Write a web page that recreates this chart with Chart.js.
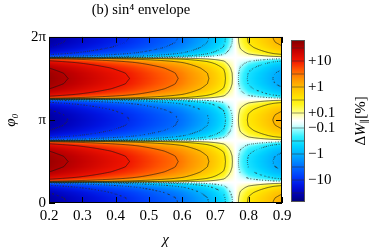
<!DOCTYPE html>
<html>
<head>
<meta charset="utf-8">
<script src="https://cdn.jsdelivr.net/npm/chart.js@4.4.0/dist/chart.umd.min.js"></script>
<style>
html, body { margin: 0; padding: 0; background: #fff; }
#wrap { width: 373px; height: 248px; }
</style>
</head>
<body>
<div id="wrap"><canvas id="myChart" width="373" height="248"></canvas></div>
<script>
var chiVals = [0.2, 0.225, 0.25, 0.275, 0.3, 0.325, 0.35, 0.375, 0.4, 0.425,
               0.45, 0.475, 0.5, 0.525, 0.55, 0.575, 0.6, 0.625, 0.65, 0.675,
               0.7, 0.725, 0.75, 0.775, 0.8, 0.825, 0.85, 0.875, 0.9];
// Delta W (in %) at phi0 = pi/2 for each chi
var ampVals = [45, 38.4, 33, 28.5, 24.2, 20.7, 17.7, 15.1, 13.0, 11.2,
               9.47, 7.8, 6.42, 5.28, 4.35, 3.58, 2.82, 2.07, 1.51, 1.1,
               0.70, 0.415, 0.11, -0.16, -0.364, -0.52, -0.73, -1.04, -1.3];
var phiSteps = [0, 1, 2, 3, 4, 5, 6, 7, 8, 9, 10, 11, 12, 13, 14, 15, 16,
                17, 18, 19, 20, 21, 22, 23, 24, 25, 26, 27, 28, 29, 30, 31, 32];
var phiShape = [-1, -0.924, -0.707, -0.383, 0, 0.383, 0.707, 0.924, 1, 0.924, 0.707, 0.383, 0,
                -0.383, -0.707, -0.924, -1, -0.924, -0.707, -0.383, 0, 0.383, 0.707, 0.924, 1,
                0.924, 0.707, 0.383, 0, -0.383, -0.707, -0.924, -1];

var xTickVals = [0.2, 0.3, 0.4, 0.5, 0.6, 0.7, 0.8, 0.9];
var yTickVals = [0, Math.PI, 2 * Math.PI];
var yTickLabels = ['0', 'π', '2π'];
var levels = [0.1, 0.316, 1, 3.16, 10, 31.6];
var cbTickVals = [10, 1, 0.1, -0.1, -1, -10];
var cbTickLabels = ['+10', '+1', '+0.1', '\u22120.1', '\u22121', '\u221210'];

var serif = "'Liberation Serif', 'DejaVu Serif', serif";

// colour map stops: position on the colour bar (px from centre) -> rgb
var cmapStops = [
    [-81, 0, 0, 120], [-73, 0, 0, 185], [-65, 0, 20, 225], [-56, 0, 60, 250],
    [-46, 0, 110, 255], [-36, 0, 165, 255], [-26, 0, 210, 255], [-16, 50, 240, 255],
    [-9, 150, 252, 255], [-4, 225, 255, 255], [0, 255, 255, 255],
    [4, 255, 255, 200], [9, 255, 255, 120], [16, 255, 245, 30], [24, 255, 225, 0],
    [33, 255, 190, 0], [42, 255, 145, 0], [51, 255, 85, 0], [60, 240, 20, 0],
    [70, 195, 0, 0], [81, 125, 0, 0]
];

// symlog position (px) on the colour bar for a value
function tOf(v) {
    var a = Math.abs(v);
    var t = a <= 0.1 ? 7.5 * a / 0.1 : 7.5 + 26 * Math.log10(a / 0.1);
    return v < 0 ? -t : t;
}
function vOf(t) {
    var a = Math.abs(t);
    var v = a <= 7.5 ? 0.1 * a / 7.5 : 0.1 * Math.pow(10, (a - 7.5) / 26);
    return t < 0 ? -v : v;
}

function cmap(t) {
    if (t <= cmapStops[0][0]) return cmapStops[0].slice(1);
    var last = cmapStops[cmapStops.length - 1];
    if (t >= last[0]) return last.slice(1);
    for (var i = 1; i < cmapStops.length; i++) {
        if (t <= cmapStops[i][0]) {
            var a = cmapStops[i - 1], b = cmapStops[i];
            var f = (t - a[0]) / (b[0] - a[0]);
            return [a[1] + f * (b[1] - a[1]), a[2] + f * (b[2] - a[2]), a[3] + f * (b[3] - a[3])];
        }
    }
}

function lerp(xs, ys, x) {
    if (x <= xs[0]) return ys[0];
    if (x >= xs[xs.length - 1]) return ys[ys.length - 1];
    for (var i = 1; i < xs.length; i++) {
        if (x <= xs[i]) {
            var f = (x - xs[i - 1]) / (xs[i] - xs[i - 1]);
            return ys[i - 1] + f * (ys[i] - ys[i - 1]);
        }
    }
}

var ampT = ampVals.map(tOf);
var phiVals = phiSteps.map(function(k) { return k * Math.PI / 16; });

function ampAt(chi) { return vOf(lerp(chiVals, ampT, chi)); }
function shapeAt(phi) { return lerp(phiVals, phiShape, phi); }

// marching squares on a grid of values
function contour(ctx, grid, xs, ys, level, dotted) {
    var nx = xs.length, ny = ys.length;
    ctx.beginPath();
    for (var j = 0; j < ny - 1; j++) {
        for (var i = 0; i < nx - 1; i++) {
            if (dotted && (i + j) % 3 !== 0) continue;
            var v00 = grid[j][i], v10 = grid[j][i + 1], v01 = grid[j + 1][i], v11 = grid[j + 1][i + 1];
            var pts = [];
            if ((v00 - level) * (v10 - level) < 0) {
                var f = (level - v00) / (v10 - v00);
                pts.push([xs[i] + f * (xs[i + 1] - xs[i]), ys[j]]);
            }
            if ((v10 - level) * (v11 - level) < 0) {
                var f2 = (level - v10) / (v11 - v10);
                pts.push([xs[i + 1], ys[j] + f2 * (ys[j + 1] - ys[j])]);
            }
            if ((v01 - level) * (v11 - level) < 0) {
                var f3 = (level - v01) / (v11 - v01);
                pts.push([xs[i] + f3 * (xs[i + 1] - xs[i]), ys[j + 1]]);
            }
            if ((v00 - level) * (v01 - level) < 0) {
                var f4 = (level - v00) / (v01 - v00);
                pts.push([xs[i], ys[j] + f4 * (ys[j + 1] - ys[j])]);
            }
            for (var k = 0; k + 1 < pts.length; k += 2) {
                ctx.moveTo(pts[k][0], pts[k][1]);
                ctx.lineTo(pts[k + 1][0], pts[k + 1][1]);
            }
        }
    }
    ctx.stroke();
}

var heatmapPlugin = {
    id: 'heatmap',
    beforeDatasetsDraw: function(chart) {
        var ctx = chart.ctx, area = chart.chartArea;
        var xS = chart.scales.x, yS = chart.scales.y;
        var w = Math.round(area.right - area.left), h = Math.round(area.bottom - area.top);

        // colour field
        var off = document.createElement('canvas');
        off.width = w; off.height = h;
        var octx = off.getContext('2d');
        var img = octx.createImageData(w, h);
        var colA = [], rowS = [];
        for (var px = 0; px < w; px++) colA.push(ampAt(xS.getValueForPixel(area.left + px + 0.5)));
        for (var py = 0; py < h; py++) rowS.push(shapeAt(yS.getValueForPixel(area.top + py + 0.5)));
        for (py = 0; py < h; py++) {
            for (px = 0; px < w; px++) {
                var c = cmap(tOf(colA[px] * rowS[py]));
                var idx = (py * w + px) * 4;
                img.data[idx] = c[0]; img.data[idx + 1] = c[1]; img.data[idx + 2] = c[2]; img.data[idx + 3] = 255;
            }
        }
        octx.putImageData(img, 0, 0);
        ctx.drawImage(off, area.left, area.top);

        // contour grid
        var nx = 281, ny = 257, xs = [], ys = [], aCol = [], sRow = [];
        for (var i = 0; i < nx; i++) {
            var chi = 0.2 + 0.7 * i / (nx - 1);
            xs.push(xS.getPixelForValue(chi));
            aCol.push(ampAt(chi));
        }
        for (var j = 0; j < ny; j++) {
            var phi = 2 * Math.PI * j / (ny - 1);
            ys.push(yS.getPixelForValue(phi));
            sRow.push(shapeAt(phi));
        }
        var grid = [];
        for (j = 0; j < ny; j++) {
            var row = [];
            for (i = 0; i < nx; i++) row.push(aCol[i] * sRow[j]);
            grid.push(row);
        }
        ctx.save();
        ctx.beginPath();
        ctx.rect(area.left, area.top, area.right - area.left, area.bottom - area.top);
        ctx.clip();
        ctx.lineWidth = 0.8;
        ctx.strokeStyle = 'rgba(20,20,20,0.8)';
        levels.forEach(function(L) { contour(ctx, grid, xs, ys, L, false); });
        ctx.lineWidth = 1.1;
        ctx.strokeStyle = 'rgba(40,40,40,0.85)';
        levels.forEach(function(L) { contour(ctx, grid, xs, ys, -L, true); });
        ctx.restore();

        // frame and inward ticks
        ctx.save();
        ctx.strokeStyle = '#000';
        ctx.lineWidth = 1;
        ctx.strokeRect(area.left + 0.5, area.top + 0.5, area.right - area.left - 1, area.bottom - area.top - 1);
        ctx.beginPath();
        xTickVals.forEach(function(v) {
            var x = Math.round(xS.getPixelForValue(v)) + 0.5;
            ctx.moveTo(x, area.bottom); ctx.lineTo(x, area.bottom - 6);
            ctx.moveTo(x, area.top); ctx.lineTo(x, area.top + 6);
        });
        yTickVals.forEach(function(v) {
            var y = Math.round(yS.getPixelForValue(v)) + 0.5;
            ctx.moveTo(area.left, y); ctx.lineTo(area.left + 6, y);
            ctx.moveTo(area.right, y); ctx.lineTo(area.right - 6, y);
        });
        ctx.stroke();
        ctx.restore();
    },
    afterDraw: function(chart) {
        var ctx = chart.ctx;
        var cbLeft = 292, cbRight = 304, cbMid = 120.5, cbHalf = 80;
        ctx.save();
        for (var y = Math.round(cbMid - cbHalf); y < Math.round(cbMid + cbHalf); y++) {
            var c = cmap(cbMid - (y + 0.5));
            ctx.fillStyle = 'rgb(' + Math.round(c[0]) + ',' + Math.round(c[1]) + ',' + Math.round(c[2]) + ')';
            ctx.fillRect(cbLeft, y, cbRight - cbLeft, 1);
        }
        ctx.strokeStyle = 'rgba(40,40,40,0.7)';
        ctx.lineWidth = 0.7;
        ctx.beginPath();
        levels.forEach(function(L) {
            [L, -L].forEach(function(v) {
                var yy = cbMid - tOf(v);
                ctx.moveTo(cbLeft, yy); ctx.lineTo(cbRight, yy);
            });
        });
        ctx.stroke();
        ctx.strokeStyle = '#555';
        ctx.lineWidth = 1;
        ctx.strokeRect(cbLeft - 0.5, Math.round(cbMid - cbHalf) - 0.5, cbRight - cbLeft + 1, 2 * cbHalf + 1);

        ctx.fillStyle = '#000';
        ctx.font = '15px ' + serif;
        ctx.textAlign = 'left';
        ctx.textBaseline = 'middle';
        cbTickVals.forEach(function(v, i) {
            ctx.fillText(cbTickLabels[i], 308, cbMid - tOf(v));
        });

        // colour bar title, rotated
        ctx.translate(361, 121);
        ctx.rotate(-Math.PI / 2);
        var parts = [
            ['Δ', '15px ' + serif, 0],
            ['W', 'italic 15px ' + serif, 0],
            ['∥', '10px ' + serif, 4],
            ['[%]', '15px ' + serif, 0]
        ];
        var total = 0;
        parts.forEach(function(p) { ctx.font = p[1]; total += ctx.measureText(p[0]).width; });
        var x = -total / 2;
        parts.forEach(function(p) {
            ctx.font = p[1];
            ctx.fillText(p[0], x, p[2]);
            x += ctx.measureText(p[0]).width;
        });
        ctx.restore();
    }
};

var myChart = new Chart(document.getElementById('myChart').getContext('2d'), {
    type: 'scatter',
    data: { datasets: [] },
    options: {
        responsive: false,
        animation: false,
        layout: { padding: { left: 0, right: 91, top: 0, bottom: 0 } },
        plugins: {
            legend: { display: false },
            tooltip: { enabled: false },
            title: {
                display: true,
                text: '(b) sin\u2074 envelope',
                color: '#000',
                font: { family: serif, size: 14.5, weight: 'normal', lineHeight: 1.1 },
                padding: { top: 2, bottom: 19 }
            }
        },
        scales: {
            x: {
                type: 'linear',
                min: 0.2,
                max: 0.9,
                afterFit: function(scale) { scale.height = 45; },
                afterBuildTicks: function(scale) {
                    scale.ticks = xTickVals.map(function(v) { return { value: v }; });
                },
                grid: { display: false, drawTicks: false },
                border: { display: false },
                ticks: {
                    color: '#000',
                    padding: 4,
                    maxRotation: 0,
                    font: { family: serif, size: 15 },
                    callback: function(value) { return value.toFixed(1); }
                },
                title: {
                    display: true,
                    text: 'χ',
                    color: '#000',
                    font: { family: serif, size: 15, style: 'italic', lineHeight: 1 },
                    padding: { top: 0, bottom: 0 }
                }
            },
            y: {
                type: 'linear',
                min: 0,
                max: 2 * Math.PI,
                afterFit: function(scale) { scale.width = 49; },
                afterBuildTicks: function(scale) {
                    scale.ticks = yTickVals.map(function(v) { return { value: v }; });
                },
                grid: { display: false, drawTicks: false },
                border: { display: false },
                ticks: {
                    color: '#000',
                    padding: 3,
                    font: { family: serif, size: 15 },
                    callback: function(value, index) { return yTickLabels[index]; }
                },
                title: {
                    display: true,
                    text: 'φ₀',
                    color: '#000',
                    font: { family: serif, size: 15, style: 'italic', lineHeight: 1 },
                    padding: { top: 4, bottom: 0 }
                }
            }
        }
    },
    plugins: [heatmapPlugin]
});
</script>
</body>
</html>
